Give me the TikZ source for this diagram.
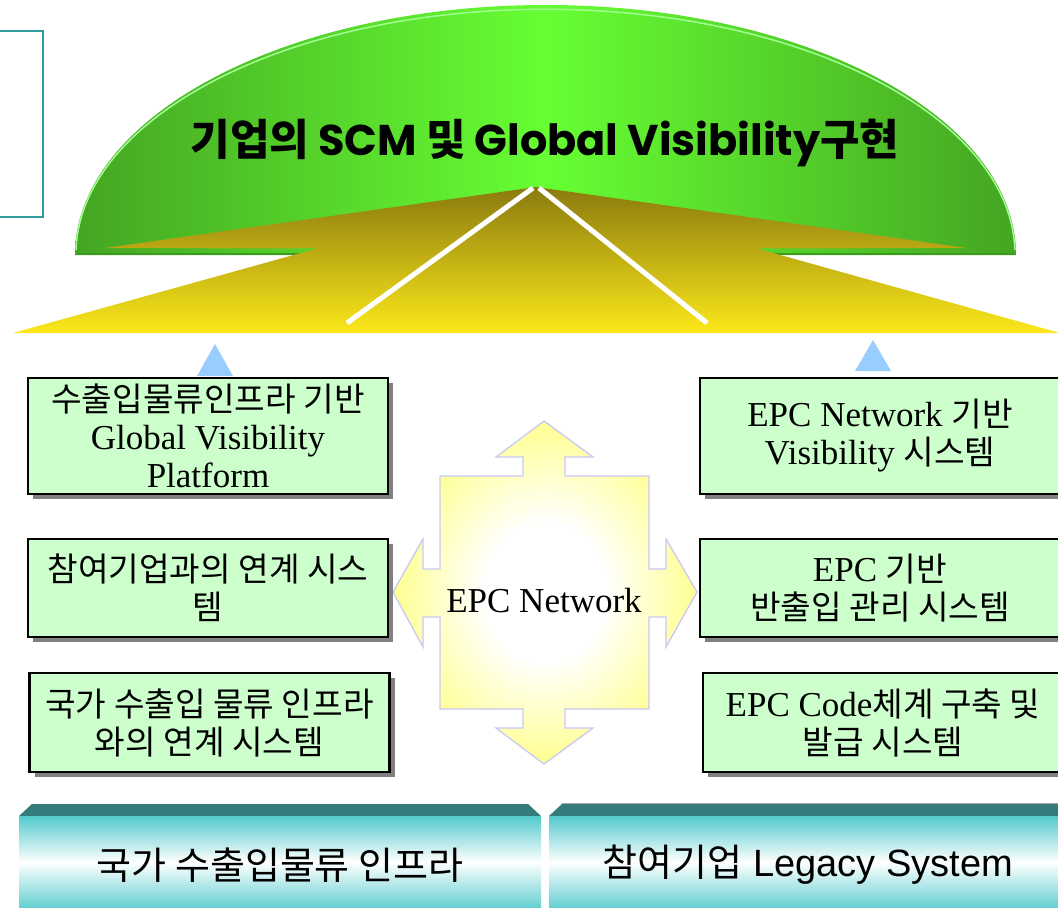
\documentclass[tikz,border=0pt]{standalone}
\usepackage{fontspec}
\setmainfont{Liberation Serif}
\newfontfamily\kr{Noto Sans CJK KR}
\newfontfamily\krs{Noto Sans CJK KR}[Scale=0.95]
\newfontfamily\arial{Liberation Sans}
\newfontfamily\geo{Poppins}
\usetikzlibrary{shadows}

\definecolor{boxgreen}{HTML}{CCFFCC}
\definecolor{domeedge}{HTML}{44A522}
\definecolor{domemid}{HTML}{66FF33}
\definecolor{domerim}{HTML}{A0FF90}
\definecolor{domedark}{HTML}{3C9A1E}
\definecolor{roadtop}{HTML}{8A7A0E}
\definecolor{roadbot}{HTML}{FCE81A}
\definecolor{netyellow}{HTML}{FFFF22}
\definecolor{netedge}{HTML}{C8C8F8}
\definecolor{tealdark}{HTML}{347C7C}
\definecolor{tealbody}{HTML}{52CACC}
\definecolor{frameteal}{HTML}{339C9C}
\definecolor{uptri}{HTML}{99CCFF}

\pgfdeclareradialshading{netglow}{\pgfpoint{0bp}{0bp}}{%
  color(0bp)=(white); color(10bp)=(white); color(40bp)=(netyellow); color(50bp)=(netyellow)}

\tikzset{
  infobox/.style={draw=black, line width=2.5pt, fill=boxgreen, minimum width=360pt,
    inner sep=0pt, align=center, font=\fontsize{35}{38}\selectfont,
    drop shadow={shadow xshift=5pt, shadow yshift=-5pt, fill=gray, opacity=1}},
  basebar/.style={font=\arial\fontsize{38}{40}\selectfont, inner sep=0pt},
  stripe/.style={fill=tealdark},
  barbody/.style={top color=tealbody, bottom color=tealbody!90!white, middle color=white},
  road/.style={draw=white, line width=5pt},
  uparrow/.style={fill=uptri},
}

\begin{document}
\begin{tikzpicture}[x=1pt, y=-1pt]
\clip (0,0) rectangle (1058,908);
\fill[white] (0,0) rectangle (1058,908);

% frame at the upper left
\draw[frameteal, line width=2pt, fill=white] (-10,31) rectangle (43,217);

% dome
\path[left color=domeedge, right color=domeedge, middle color=domemid]
  (75,255) arc[start angle=180, end angle=360, x radius=470.5, y radius=250] -- cycle;
\draw[domerim, line width=1.5pt]
  (76,250) arc[start angle=181, end angle=359, x radius=469.5, y radius=245];
\draw[domedark, line width=2.5pt] (77,254) -- (1014,254);

% perspective road below the dome
\coordinate (apex) at (536,187);
\path[top color=roadtop, bottom color=roadbot]
  (13,333) -- (317,248.5) -- (105,248) -- (apex) -- (967,248) -- (757,248.5)
  -- (1060,333) -- cycle;
\coordinate (roadL) at (347,323);
\coordinate (roadR) at (707,323);
\draw[road] (533,188) -- (roadL);
\draw[road] (539,188) -- (roadR);

% upward markers
\path[uparrow] (215,344) -- (233,376) -- (197,376) -- cycle;
\path[uparrow] (873,340) -- (891,371) -- (855,371) -- cycle;

% goal text on the dome
\node (goal) at (545,143) {\geo\bfseries\fontsize{43}{46}\selectfont
  {\kr 기업의} SCM {\kr 및} Global Visibility{\kr 구현}};

% four-way arrow of the EPC network
\path[shading=netglow, draw=netedge, line width=1.3pt]
  (440,476) -- (523,476) -- (523,457) -- (496,457) -- (544,421) -- (593,457)
  -- (565,457) -- (565,476) -- (649,476) -- (649,569) -- (666,569) -- (666,539)
  -- (697,592) -- (666,647) -- (666,617) -- (649,617) -- (649,709) -- (565,709)
  -- (565,728) -- (593,728) -- (544,764) -- (496,728) -- (523,728) -- (523,709)
  -- (440,709) -- (440,617) -- (423,617) -- (423,647) -- (393,592) -- (423,539)
  -- (423,569) -- (440,569) -- cycle;
\node[font=\fontsize{35}{38}\selectfont] (net) at (544,601) {EPC Network};

% left column
\node[infobox, minimum height=116pt] (platform) at (208,436)
  {{\krs 수출입물류인프라 기반}\\Global Visibility\\Platform};
\node[infobox, minimum height=98pt] (partner) at (208,588)
  {{\krs 참여기업과의 연계 시스}\\{\krs 템}};
\node[infobox, minimum height=99pt] (national) at (209.5,722.5)
  {{\krs 국가 수출입 물류 인프라}\\{\krs 와의 연계 시스템}};

% right column
\node[infobox, minimum height=116pt] (visibility) at (880,436)
  {EPC Network {\krs 기반}\\Visibility {\krs 시스템}};
\node[infobox, minimum height=98pt] (gate) at (880,588)
  {EPC {\krs 기반}\\{\krs 반출입 관리 시스템}};
\node[infobox, minimum height=99pt] (code) at (883,722.5)
  {EPC Code{\krs 체계 구축 및}\\{\krs 발급 시스템}};

% base layers
\path[stripe] (19,816) -- (32,804) -- (528,804) -- (541,816) -- cycle;
\path[barbody] (19,816) rectangle (541,908);
\path[stripe] (549,816) -- (562,804) -- (1070,804) -- (1070,816) -- cycle;
\draw[gray!70, line width=1pt] (562,803.5) -- (1070,803.5);
\path[barbody] (549,816) rectangle (1070,908);
\node[basebar] (infra) at (280,865) {{\kr 국가 수출입물류 인프라}};
\node[basebar] (legacy) at (808,865) {{\kr 참여기업} Legacy System};
\end{tikzpicture}
\end{document}
